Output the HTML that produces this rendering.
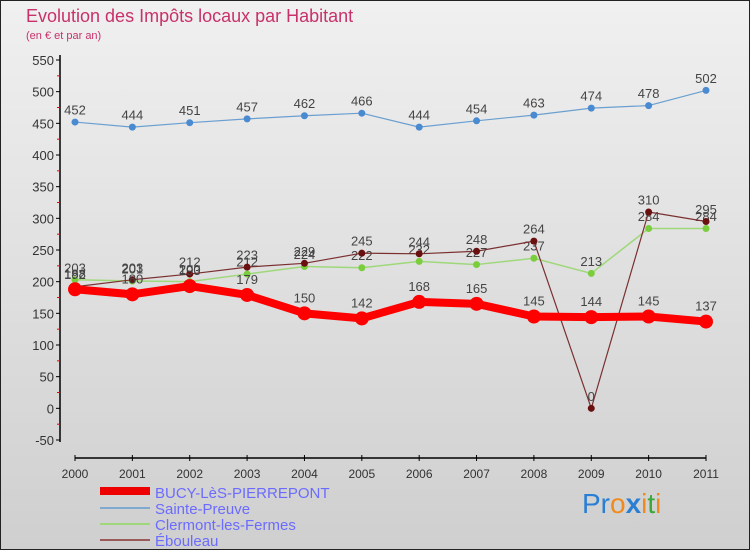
<!DOCTYPE html>
<html><head><meta charset="utf-8"><style>
body{margin:0;width:750px;height:550px;overflow:hidden;font-family:"Liberation Sans",sans-serif}
</style></head><body>
<svg id="c" width="750" height="550" xmlns="http://www.w3.org/2000/svg" font-family="Liberation Sans, sans-serif">
<defs><linearGradient id="bg" x1="0" y1="0" x2="0" y2="1"><stop offset="0" stop-color="#f0f0f0"/><stop offset="1" stop-color="#cfcfcf"/></linearGradient></defs>
<rect x="0.5" y="0.5" width="749" height="549" fill="url(#bg)" stroke="#222"/>
<text x="26" y="22" font-size="18" fill="#c8316a">Evolution des Impôts locaux par Habitant</text>
<text x="26" y="39" font-size="11" fill="#c8316a">(en € et par an)</text>
<g id="axes"></g><g id="series"></g>
<g font-size="15" fill="#6b6bff">
<rect x="100" y="487" width="50" height="8" fill="#e00"/>
<text x="155" y="498">BUCY-LèS-PIERREPONT</text>
<rect x="100" y="507" width="50" height="2" fill="#7fa9cf"/>
<text x="155" y="514">Sainte-Preuve</text>
<rect x="100" y="523" width="50" height="2" fill="#9fd87a"/>
<text x="155" y="530">Clermont-les-Fermes</text>
<rect x="100" y="539" width="50" height="2" fill="#9a5a5a"/>
<text x="155" y="546">Ébouleau</text>
</g>
<text x="582" y="513" font-size="28"><tspan fill="#2a7fd4">Pr</tspan><tspan fill="#f08a1c">o</tspan><tspan fill="#2a7fd4" font-weight="bold">x</tspan><tspan fill="#f08a1c">i</tspan><tspan fill="#3aa83a">t</tspan><tspan fill="#f08a1c">i</tspan></text>
</svg>
<script>
const years=[2000,2001,2002,2003,2004,2005,2006,2007,2008,2009,2010,2011];
const bucy=[188,180,193,179,150,142,168,165,145,144,145,137];
const sainte=[452,444,451,457,462,466,444,454,463,474,478,502];
const clermont=[203,201,200,212,224,222,232,227,237,213,284,284];
const ebouleau=[192,203,212,223,229,245,244,248,264,0,310,295];
const yTicks=[-50,0,50,100,150,200,250,300,350,400,450,500,550];
const NS='http://www.w3.org/2000/svg';
const X=i=>75+i*(706-75)/11;
const Y=v=>440-(v+50)*380/600;
function mk(t,a,p){const e=document.createElementNS(NS,t);for(const k in a)e.setAttribute(k,a[k]);p.appendChild(e);return e;}
const ax=document.getElementById('axes');
let l=mk('line',{x1:60,y1:55,x2:60,y2:442,stroke:'#000','stroke-width':1.5},ax);


l=mk('line',{x1:75,y1:458,x2:706,y2:458,stroke:'#000','stroke-width':1.5},ax);


yTicks.forEach((v,i)=>{
 mk('line',{x1:56,y1:Y(v),x2:60,y2:Y(v),stroke:'#000'},ax);
 if(i<yTicks.length-1)mk('line',{x1:57,y1:Y(v+25),x2:60,y2:Y(v+25),stroke:'#e00'},ax);
 const t=mk('text',{x:54,y:Y(v)+5,'text-anchor':'end','font-size':13,fill:'#333'},ax);
 
 
 t.textContent=v;
});
years.forEach((y,i)=>{
 mk('line',{x1:X(i),y1:455,x2:X(i),y2:461,stroke:'#000'},ax);
 const t=mk('text',{x:X(i),y:478,'text-anchor':'middle','font-size':12,fill:'#333'},ax);
 
 
 t.textContent=y;
});
const sg=document.getElementById('series');
function draw(data,name,color,w,r,dot){
 const g=mk('g',{},sg);
 
 
 const p=mk('polyline',{points:data.map((v,i)=>X(i)+','+Y(v)).join(' '),fill:'none',stroke:color,'stroke-width':w,'stroke-linejoin':'round'},g);
 
 
 data.forEach((v,i)=>{
  const c=mk('circle',{cx:X(i),cy:Y(v),r:r,fill:dot},g);
  
  
  const t=mk('text',{x:X(i),y:Y(v)-(r+4),'text-anchor':'middle','font-size':13,fill:'#444'},g);
  
  
  t.textContent=v;
 });
}
draw(sainte,'sainte-preuve','#6a9fd0',1.2,3.5,'#4a8ad0');
draw(clermont,'clermont','#9fd87a',1.5,3.5,'#7acd3c');
draw(ebouleau,'ebouleau','#7a3030',1.2,3.5,'#6a1010');
draw(bucy,'bucy','#f00',8,7,'#f00');
</script>
</body></html>
